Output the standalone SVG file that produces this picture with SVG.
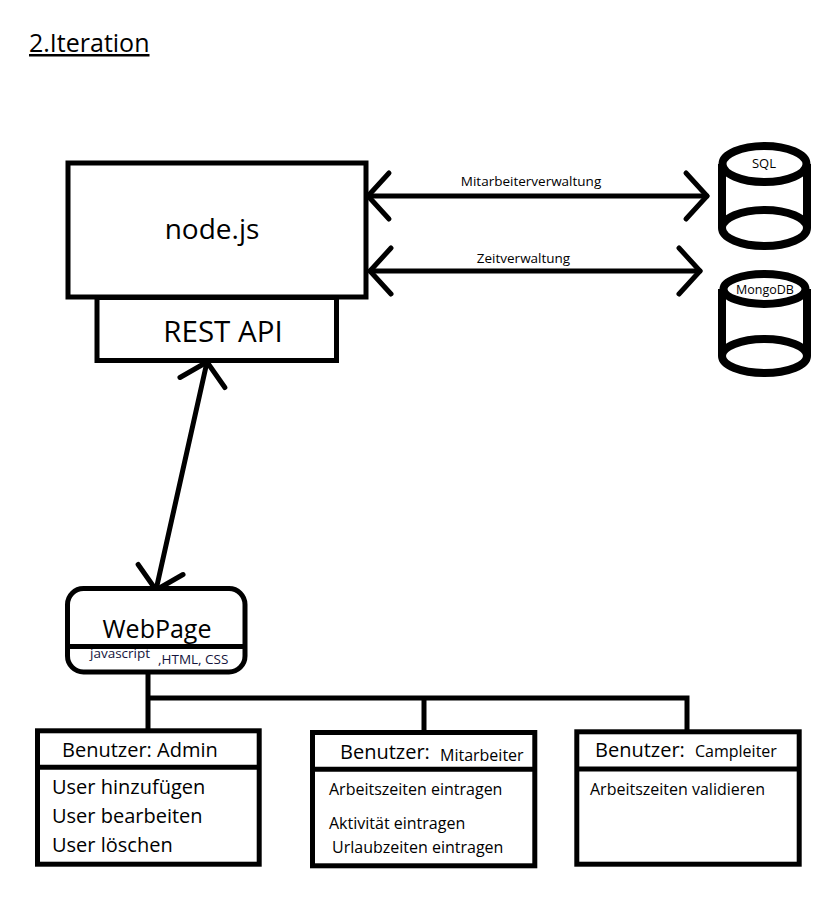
<svg xmlns="http://www.w3.org/2000/svg" width="840" height="901" viewBox="0 0 840 901">
<defs>
<style>
text{font-family:"Open Sans","Liberation Sans",sans-serif;fill:#000}
.box{fill:#fff;stroke:#000;stroke-width:5}
.div{stroke:#000;stroke-width:5;fill:none}
.cyl{fill:#fff;stroke:#000;stroke-width:8}
.conn{fill:none;stroke:#000;stroke-width:5;stroke-linecap:round}
.arr{marker-start:url(#chev);marker-end:url(#chev)}
.lbl{font-size:13.5px;text-anchor:middle}
.h{font-size:20px}
.s{font-size:16px}
.code{font-size:13.5px;fill:#14143c}
</style>
<marker id="chev" markerUnits="userSpaceOnUse" markerWidth="60" markerHeight="60" viewBox="-30 -30 60 60" refX="0" refY="0" orient="auto-start-reverse" overflow="visible">
<path d="M-21,-23 L0,0 L-21,23" fill="none" stroke="#000" stroke-width="5" stroke-linecap="round" stroke-linejoin="round"/>
</marker>
</defs>
<rect width="840" height="901" fill="#fff"/>

<text id="title" x="29" y="52" font-size="25" text-decoration="underline">2.Iteration</text>

<g id="connectors">
<path class="conn arr" d="M368,196 L707,196"/>
<path class="conn arr" d="M370,271 L700,271"/>
<path class="conn arr" d="M207,362 L156,590"/>
<path class="conn" d="M148,674 V731 M148,698 H687 V731 M424,698 V731" stroke-linecap="butt"/>
<text class="lbl" x="531" y="186">Mitarbeiterverwaltung</text>
<text class="lbl" x="523.5" y="263">Zeitverwaltung</text>
</g>

<g id="nodejs">
<rect class="box" x="68" y="163" width="298" height="134"/>
<text x="212" y="239" font-size="28" text-anchor="middle">node.js</text>
</g>

<g id="restapi">
<rect class="box" x="97" y="297.5" width="239.5" height="63"/>
<text x="223" y="341.5" font-size="29.5" text-anchor="middle">REST API</text>
</g>

<g id="sql">
<path class="cyl" d="M722,164 V228 M807,164 V228"/>
<ellipse class="cyl" cx="764.5" cy="228" rx="42.5" ry="18"/>
<ellipse class="cyl" cx="764.5" cy="164" rx="42" ry="18"/>
<text x="764" y="167.5" font-size="13" text-anchor="middle">SQL</text>
</g>

<g id="mongodb">
<path class="cyl" d="M722,289 V356 M807,289 V356"/>
<ellipse class="cyl" cx="764.5" cy="356" rx="42.5" ry="17"/>
<ellipse class="cyl" cx="764.5" cy="289" rx="41" ry="15"/>
<text x="765" y="294" font-size="12.5" text-anchor="middle">MongoDB</text>
</g>

<g id="webpage">
<rect class="box" x="67.5" y="588.5" width="177.5" height="83.5" rx="16"/>
<path class="div" d="M67.5,646.5 H245"/>
<text x="157" y="638" font-size="25" text-anchor="middle">WebPage</text>
<text class="code" x="90" y="658">javascript</text>
<text class="code" x="158" y="664">,HTML, CSS</text>
</g>

<g id="admin">
<rect class="box" x="37.5" y="730.8" width="221.7" height="133.4"/>
<path class="div" d="M37.5,767.3 H259.2"/>
<text class="h" x="62" y="757">Benutzer: Admin</text>
<text class="h" x="52" y="794">User hinzufügen</text>
<text class="h" x="52" y="823">User bearbeiten</text>
<text class="h" x="52" y="852">User löschen</text>
</g>

<g id="mitarbeiter">
<rect class="box" x="312.5" y="732.5" width="222.3" height="133.3"/>
<path class="div" d="M312.5,769.3 H534.8"/>
<text class="h" x="340" y="759">Benutzer:</text>
<text class="s" x="440" y="760.5">Mitarbeiter</text>
<text class="s" x="329" y="795">Arbeitszeiten eintragen</text>
<text class="s" x="329" y="829">Aktivität eintragen</text>
<text class="s" x="332" y="853">Urlaubzeiten eintragen</text>
</g>

<g id="campleiter">
<rect class="box" x="576.8" y="731.8" width="222.4" height="132.4"/>
<path class="div" d="M576.8,769 H799.2"/>
<text class="h" x="595" y="757">Benutzer:</text>
<text class="s" x="695" y="757">Campleiter</text>
<text class="s" x="590" y="795">Arbeitszeiten validieren</text>
</g>
</svg>
